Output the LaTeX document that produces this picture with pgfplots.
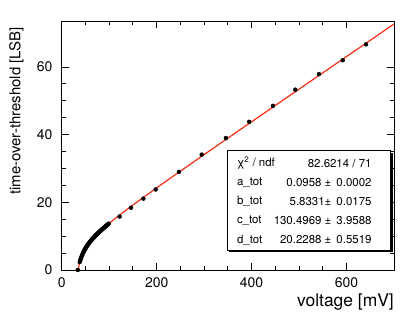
\documentclass[border=0pt]{standalone}
\usepackage{fontspec}
\setmainfont{TeX Gyre Heros}
\usepackage{pgfplots}
\pgfplotsset{compat=1.18}
\definecolor{fitred}{RGB}{250,45,20}

% measured points: dense scan near threshold, then coarse steps
\pgfplotstableread{
x y
34 0
38 2.35
39 2.80
40 3.30
41 3.60
42 4.05
43 4.35
44 4.70
45 5.05
46 5.30
47 5.60
48 5.90
49 6.10
50 6.40
51 6.55
52 6.85
53 7.05
54 7.30
55 7.45
56 7.70
57 7.85
58 8.05
59 8.25
60 8.40
61 8.60
62 8.75
63 8.90
64 9.10
65 9.25
66 9.40
67 9.55
68 9.70
69 9.85
70 10.00
71 10.15
72 10.30
73 10.40
74 10.55
75 10.70
76 10.85
77 10.95
78 11.10
79 11.25
80 11.35
81 11.50
82 11.60
83 11.75
84 11.85
85 12.00
86 12.10
87 12.25
88 12.35
89 12.50
90 12.60
91 12.75
92 12.85
93 12.95
94 13.10
95 13.20
96 13.30
97 13.45
98 13.55
99 13.70
122 15.8
146 18.4
172 21.1
198 23.8
247 29.0
295 34.1
346 39.0
395 43.8
445 48.5
492 53.3
542 57.9
592 62.0
641 66.7
}\measured

% fit curve, tabulated
\pgfplotstableread{
x y
34.5 0
35 0.351
36 1.007
37 1.597
38 2.130
40 3.065
42 3.863
45 4.876
50 6.240
55 7.349
60 8.300
70 9.917
80 11.314
90 12.585
100 13.777
120 16.021
150 19.197
200 24.267
250 29.215
300 34.107
400 43.809
500 53.461
600 63.088
700 72.701
}\fitcurve

\begin{document}
\begin{tikzpicture}
\useasboundingbox (-61.7bp,-50bp) rectangle (354.3bp,270bp);
\begin{axis}[
  scale only axis,
  width=332.3bp, height=249bp,
  xmin=0, xmax=700, ymin=0, ymax=73.6,
  xtick={0,200,400,600}, ytick={0,20,40,60},
  minor x tick num=3, minor y tick num=3,
  tick align=inside,
  major tick length=7bp, minor tick length=4bp,
  axis line style={line width=0.9bp},
  every tick/.style={black, line width=0.9bp},
  /pgf/number format/assume math mode=true,
  tick label style={font=\fontsize{14}{16}\selectfont, inner sep=0pt},
  xticklabel style={yshift=-7bp},
  yticklabel style={xshift=-9bp},
  label style={inner sep=0pt},
  xlabel={voltage [mV]},
  ylabel={time-over-threshold [LSB]},
  xlabel style={font=\fontsize{17.5}{19}\selectfont, at={([yshift=-24bp]rel axis cs:1,0)}, anchor=north east},
  ylabel style={font=\fontsize{15}{17}\selectfont, at={([xshift=-38bp,yshift=-6bp]rel axis cs:0,1)}, anchor=south east},
  clip=true,
]
\addplot[only marks, mark=*, mark size=2bp, black] table {\measured};
\addplot[fitred, line width=1.2bp, smooth, no marks] table {\fitcurve};

\fill[black] ([xshift=2bp,yshift=-2bp]rel axis cs:0.498,0.080) rectangle ([xshift=2bp,yshift=-2bp]rel axis cs:0.990,0.479);
\draw[fill=white, line width=0.9bp] (rel axis cs:0.498,0.080) rectangle (rel axis cs:0.990,0.479);
\begin{scope}[every node/.style={font=\fontsize{11.5}{13}\selectfont, inner sep=0pt}]
\node[anchor=west] at (rel axis cs:0.527,0.4285) {χ\textsuperscript{2} / ndf};
\node[anchor=east] at (rel axis cs:0.933,0.4285) {82.6214 / 71};
\node[anchor=west] at (rel axis cs:0.527,0.3522) {a\_tot};
\node[anchor=east] at (rel axis cs:0.933,0.3522) {0.0958 ± \,0.0002};
\node[anchor=west] at (rel axis cs:0.527,0.2743) {b\_tot};
\node[anchor=east] at (rel axis cs:0.933,0.2743) {5.8331± \,0.0175};
\node[anchor=west] at (rel axis cs:0.527,0.1968) {c\_tot};
\node[anchor=east] at (rel axis cs:0.933,0.1968) {130.4969 ± \,3.9588};
\node[anchor=west] at (rel axis cs:0.527,0.1205) {d\_tot};
\node[anchor=east] at (rel axis cs:0.933,0.1205) {20.2288 ± \,0.5519};
\end{scope}
\end{axis}
\end{tikzpicture}
\end{document}
